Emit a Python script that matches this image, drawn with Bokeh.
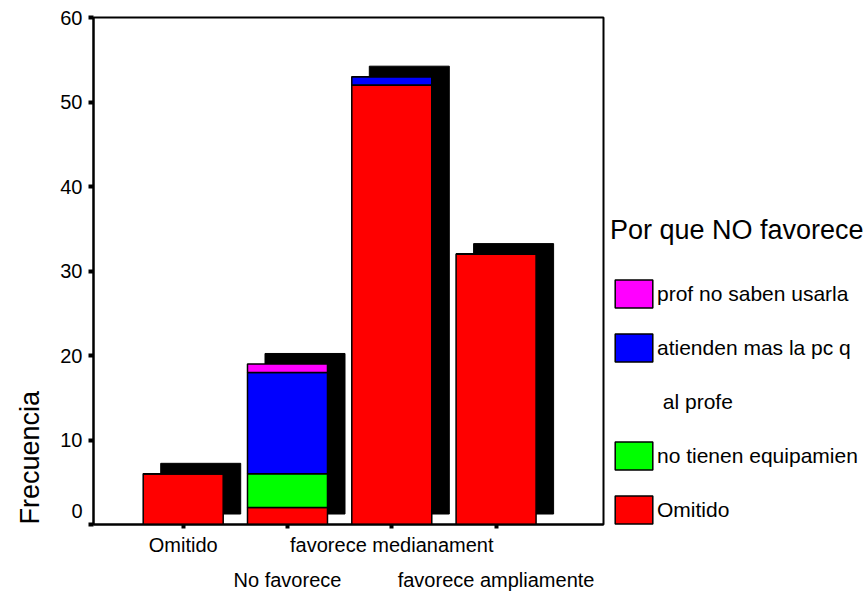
from bokeh.plotting import figure
from bokeh.models import Range1d, FixedTicker, Legend, LegendItem, Title, ColumnDataSource
from bokeh.transform import dodge
from bokeh.embed import file_html
from bokeh.resources import INLINE

# ---- data ----
categories = ["Omitido", "No favorece", "favorece medianament", "favorece ampliamente"]
label_row = [0, 1, 0, 1]  # staggered tick-label rows
series_names = ["Omitido", "no tienen equipamien", "atienden mas la pc q\nal profe", "prof no saben usarla"]
omitido = [6, 2, 52, 32]
no_tienen = [0, 4, 0, 0]
atienden = [0, 12, 1, 0]
prof_no = [0, 1, 0, 0]
y_ticks = [0, 10, 20, 30, 40, 50, 60]
colors = ["#FF0000", "#00FF00", "#0000FF", "#FF00FF"]
legend_title = "Por que NO favorece"
y_title = "Frecuencia"

FONT = "Liberation Sans"
BAR_W = 0.767
SH_DX = 0.168
SH_DY = 1.24

xs = [i + 1 for i in range(len(categories))]
totals = [a + b + c + d for a, b, c, d in zip(omitido, no_tienen, atienden, prof_no)]
keys = ["omitido", "no_tienen", "atienden", "prof_no"]
src = ColumnDataSource(dict(x=xs, omitido=omitido, no_tienen=no_tienen, atienden=atienden,
                            prof_no=prof_no, total=totals,
                            sh_top=[t + SH_DY for t in totals]))

p = figure(frame_width=510, frame_height=507, output_backend="svg", toolbar_location=None,
           x_range=Range1d(0.14, 5.03), y_range=Range1d(0, 60),
           min_border_left=93, min_border_right=0, min_border_top=17, min_border_bottom=10)
p.background_fill_color = "white"
p.border_fill_color = "white"
p.outline_line_color = "black"
p.outline_line_width = 2
p.grid.visible = False

# shadows
p.vbar(x=dodge("x", SH_DX), bottom=SH_DY, top="sh_top", width=BAR_W, source=src,
       fill_color="black", line_color="black", line_width=1)

rs = p.vbar_stack(keys, x="x", width=BAR_W, source=src, fill_color=colors,
                  line_color="black", line_width=1.5)
# invisible renderer used for the continuation line of a two-line legend label
blank = p.vbar(x=[], top=[], width=BAR_W, fill_alpha=0, line_alpha=0)

# axes
p.xaxis.ticker = FixedTicker(ticks=xs)
p.xaxis.major_label_overrides = {x: ("\n" * r) + c for x, c, r in zip(xs, categories, label_row)}
p.yaxis.ticker = FixedTicker(ticks=y_ticks)
p.yaxis.major_label_overrides = {0: "0\n"}
for ax in (p.xaxis[0], p.yaxis[0]):
    ax.axis_line_width = 2
    ax.axis_line_color = "black"
    ax.major_tick_line_width = 4
    ax.major_tick_line_color = "black"
    ax.major_tick_in = 0
    ax.minor_tick_line_color = None
    ax.major_label_text_font = FONT
    ax.major_label_text_font_size = "20px"
    ax.major_label_text_color = "black"
p.yaxis.major_tick_out = 5
p.yaxis.major_label_standoff = 6
p.yaxis.major_label_text_line_height = 1.2
p.xaxis.major_tick_out = 4
p.xaxis.major_label_standoff = 5
p.xaxis.major_label_text_line_height = 1.6

# y title, aligned to the bottom of the frame
p.add_layout(Title(text=y_title, align="left", vertical_align="top", text_font=FONT,
                   text_font_size="27px", text_font_style="normal", text_color="black",
                   standoff=21), "left")

items = []
for i in reversed(range(len(rs))):
    lines = series_names[i].split("\n")
    items.append(LegendItem(label=lines[0], renderers=[rs[i]]))
    for extra in lines[1:]:
        items.append(LegendItem(label="\u00a0" + extra, renderers=[blank]))

legend = Legend(items=items, title=legend_title, location=(7, -3),
                title_text_font=FONT, title_text_font_size="27px", title_text_font_style="normal",
                title_text_color="black", title_standoff=30,
                label_text_font=FONT, label_text_font_size="21px", label_standoff=-2,
                label_text_color="black",
                glyph_width=47, glyph_height=35, label_height=28, spacing=19,
                padding=10, margin=0, border_line_color=None, background_fill_alpha=0)
p.add_layout(legend, "right")

open("out.html", "w").write(file_html(p, INLINE))
